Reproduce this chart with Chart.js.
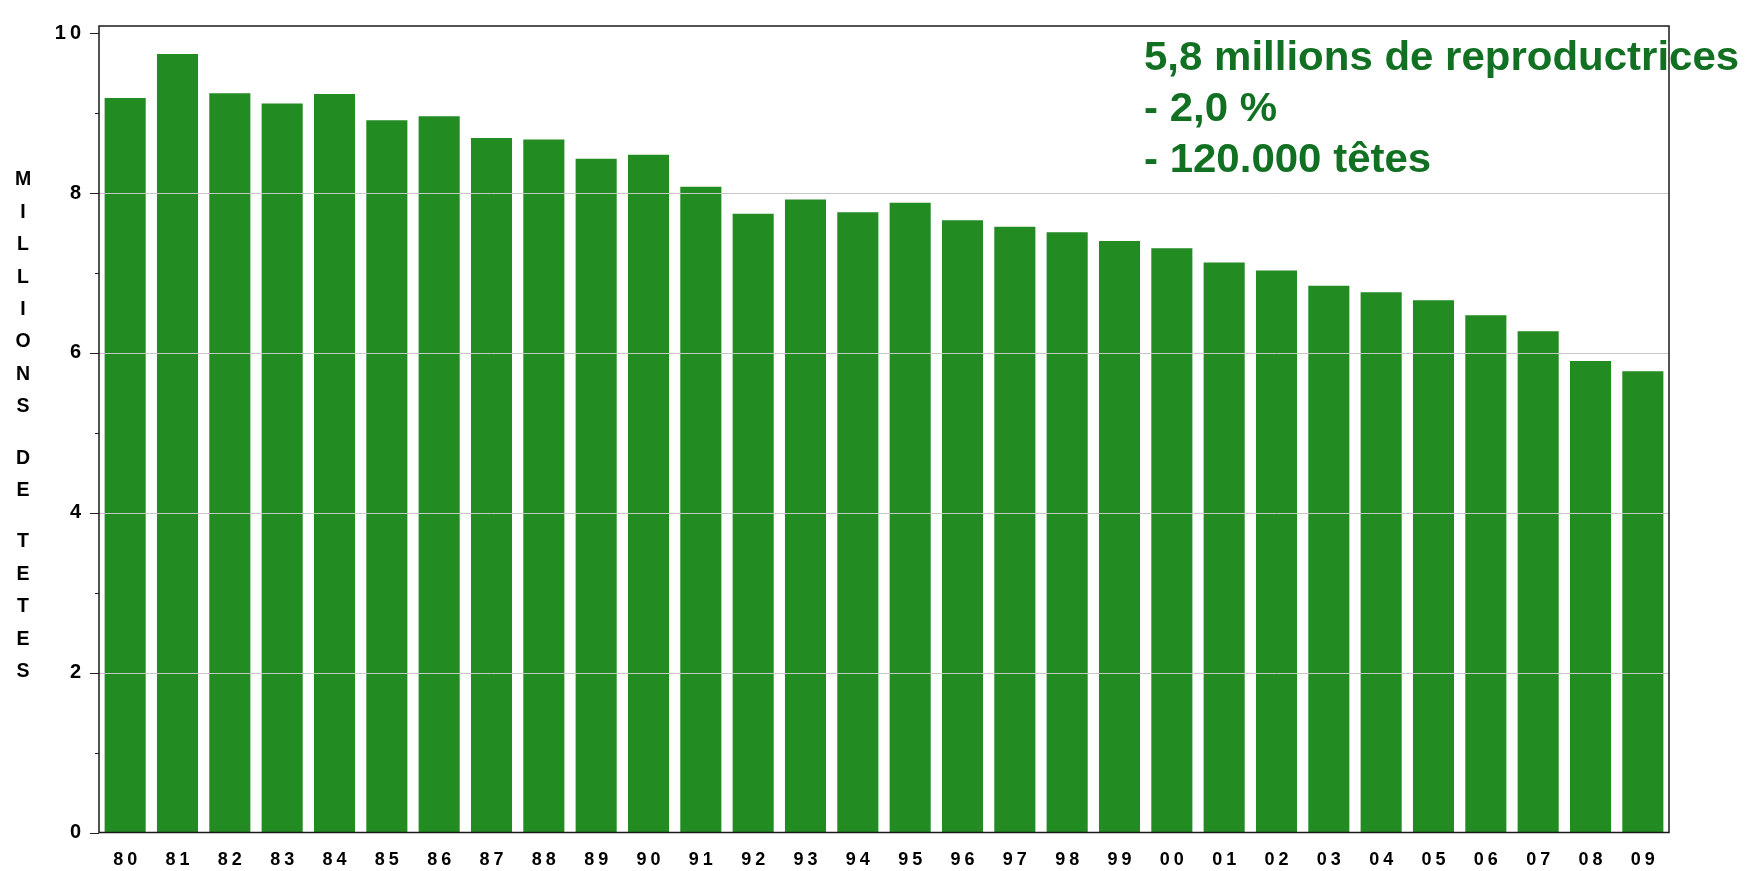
<!DOCTYPE html>
<html>
<head>
<meta charset="utf-8">
<script src="https://cdn.jsdelivr.net/npm/chart.js@4/dist/chart.umd.min.js"></script>
<style>
  html, body { margin: 0; padding: 0; background: #fff; }
  canvas { display: block; }
</style>
</head>
<body>
<canvas id="c" width="1756" height="871"></canvas>
<script>
const years = ['80','81','82','83','84','85','86','87','88','89','90','91','92','93','94','95','96','97','98','99','00','01','02','03','04','05','06','07','08','09'];
const sows = [9.19,9.74,9.25,9.12,9.24,8.91,8.96,8.69,8.67,8.43,8.48,8.08,7.74,7.92,7.76,7.88,7.66,7.58,7.51,7.40,7.31,7.13,7.03,6.84,6.76,6.66,6.47,6.27,5.90,5.77];
const yTitle = 'MILLIONS DE TETES';
const noteLines = ['5,8 millions de reproductrices', '- 2,0 %', '- 120.000 têtes'];

const FONT = '"Liberation Sans", Arial, sans-serif';

const decor = {
  id: 'decor',
  beforeDraw(chart) {
    chart.ctx.letterSpacing = '4px';
  },
  beforeDatasetsDraw(chart) {
    chart.ctx.letterSpacing = '0px';
  },
  afterDatasetsDraw(chart) {
    const ctx = chart.ctx;
    const a = chart.chartArea;
    const ys = chart.scales.y;
    ctx.save();
    ctx.letterSpacing = '0px';
    // gridlines over bars
    ctx.strokeStyle = '#c6c6c6';
    ctx.lineWidth = 1;
    ys.ticks.forEach(t => {
      if (t.value % 2 === 0 && t.value > 0 && t.value < 10) {
        const p = Math.round(ys.getPixelForValue(t.value)) + 0.5;
        ctx.beginPath();
        ctx.moveTo(a.left, p);
        ctx.lineTo(a.right, p);
        ctx.stroke();
      }
    });
    // tick marks
    ctx.strokeStyle = '#222';
    ys.ticks.forEach(t => {
      const p = Math.round(ys.getPixelForValue(t.value)) + 0.5;
      const len = t.value % 2 === 0 ? 9 : 4;
      ctx.beginPath();
      ctx.moveTo(a.left - len, p);
      ctx.lineTo(a.left, p);
      ctx.stroke();
    });
    // frame
    ctx.strokeStyle = '#1a1a1a';
    ctx.lineWidth = 1.5;
    ctx.strokeRect(a.left, a.top, a.right - a.left, a.bottom - a.top);
    ctx.restore();
  },
  afterDraw(chart) {
    const ctx = chart.ctx;
    ctx.save();
    ctx.letterSpacing = '0px';
    // vertical stacked y title
    ctx.fillStyle = '#000';
    ctx.font = 'bold 19.5px ' + FONT;
    ctx.textAlign = 'center';
    ctx.textBaseline = 'middle';
    let y = 180;
    for (const ch of yTitle) {
      if (ch === ' ') { y += 19; continue; }
      ctx.fillText(ch, 23, y);
      y += 32.4;
    }
    // annotation
    ctx.fillStyle = '#127023';
    ctx.font = 'bold 40px ' + FONT;
    ctx.textAlign = 'left';
    ctx.textBaseline = 'alphabetic';
    const baselines = [69.5, 120.5, 171.5];
    noteLines.forEach((s, i) => {
      ctx.save();
      ctx.translate(1144, baselines[i]);
      ctx.scale(1.05, 1);
      ctx.fillText(s, 0, 0);
      ctx.restore();
    });
    ctx.restore();
  }
};

new Chart(document.getElementById('c'), {
  type: 'bar',
  data: {
    labels: years,
    datasets: [{
      data: sows,
      backgroundColor: '#228B22',
      borderWidth: 0,
      barPercentage: 0.785,
      categoryPercentage: 1.0
    }]
  },
  options: {
    responsive: false,
    devicePixelRatio: 1,
    animation: false,
    layout: { padding: { top: 13.5, right: 87, left: 0, bottom: 0 } },
    plugins: { legend: { display: false }, tooltip: { enabled: false }, title: { display: false } },
    scales: {
      x: {
        grid: { display: false },
        border: { display: false },
        ticks: {
          font: { family: FONT, size: 18, weight: 'bold' },
          color: '#000',
          padding: 9,
          labelOffset: 2,
          maxRotation: 0,
          autoSkip: false
        },
        afterFit(s) { s.height = 38.5; }
      },
      y: {
        min: 0,
        max: 10.09,
        grid: { display: false, drawTicks: false },
        border: { display: false },
        ticks: {
          stepSize: 1,
          includeBounds: false,
          font: { family: FONT, size: 20, weight: 'bold' },
          color: '#000',
          padding: 14,
          callback: v => (v % 2 === 0 ? String(v) : '')
        },
        afterFit(s) { s.width = 99; }
      }
    }
  },
  plugins: [decor]
});
</script>
</body>
</html>
